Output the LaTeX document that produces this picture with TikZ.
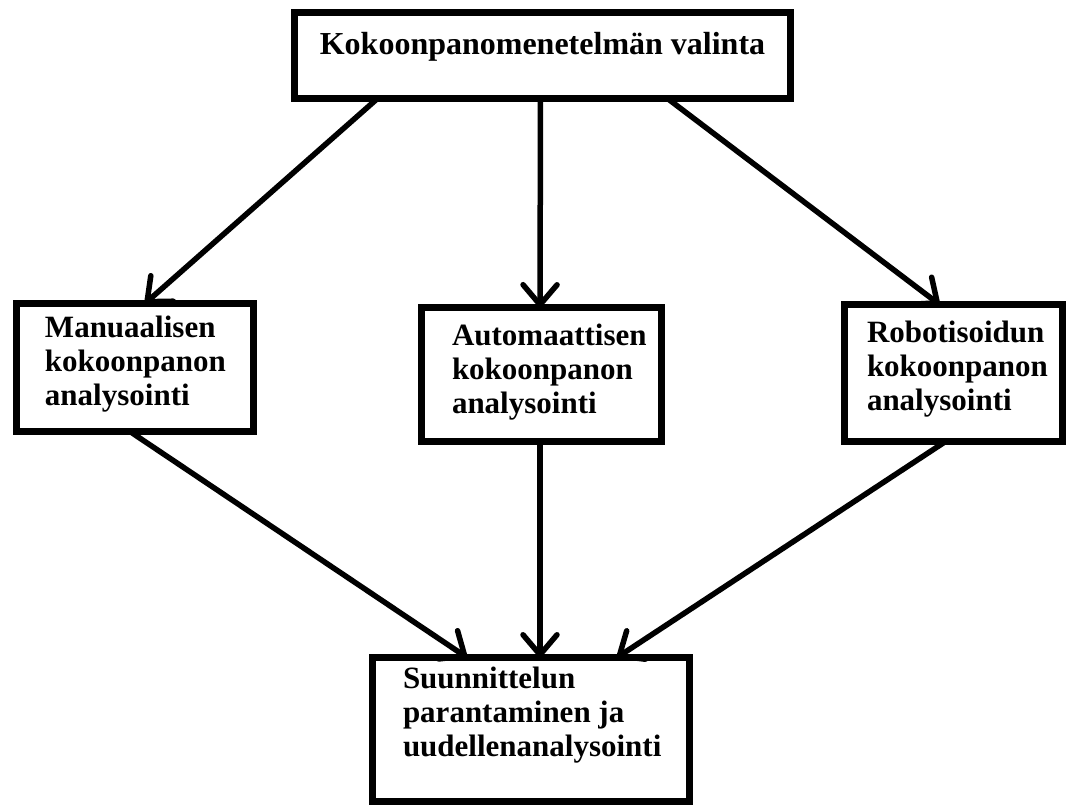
\documentclass[tikz,border=0pt]{standalone}
\usepackage{fontspec}
\setmainfont{Liberation Serif}
\usetikzlibrary{arrows.meta}
\tikzset{
  box/.style={draw=black, line width=7pt, fill=white, inner sep=0pt, outer sep=0pt, rectangle},
  lbl/.style={inner sep=0pt, outer sep=0pt, align=left, font=\fontsize{31}{34}\selectfont\bfseries},
  conn/.style={line width=5.5pt, line cap=round, -{Straight Barb[length=20pt, width=34pt, round]}},
}
\begin{document}
\begin{tikzpicture}[x=1pt, y=-1pt]
\useasboundingbox (0,0) rectangle (1069,807);
\fill[white] (0,0) rectangle (1069,807);
% boxes
\node[box, minimum width=496pt, minimum height=86pt] (top) at (542.5,55.5) {};
\node[box, minimum width=237pt, minimum height=128pt] (b1) at (135,367.5) {};
\node[box, minimum width=240pt, minimum height=134pt] (b2) at (541.5,374.5) {};
\node[box, minimum width=218pt, minimum height=137pt] (b3) at (953.5,373) {};
\node[box, minimum width=317pt, minimum height=144pt] (b4) at (531,729.5) {};
% texts (anchored at the baseline of the last line)
\node[lbl, anchor=base, font=\fontsize{32}{34}\selectfont\bfseries] (ttop) at (542.5,54) {Kokoonpanomenetelmän valinta};
\node[lbl, anchor=base west] (t1) at (45,405) {Manuaalisen\\kokoonpanon\\analysointi};
\node[lbl, anchor=base west] (t2) at (452,413) {Automaattisen\\kokoonpanon\\analysointi};
\node[lbl, anchor=base west] (t3) at (867,410) {Robotisoidun\\kokoonpanon\\analysointi};
\node[lbl, anchor=base west] (t4) at (403,756) {Suunnittelun\\parantaminen ja\\uudellenanalysointi};
% connectors
\draw[conn] ([xshift=-165pt]top.south) -- ([xshift=10pt]b1.north);
\draw[conn] ([xshift=-2pt]top.south) -- ([xshift=-1.5pt]b2.north);
\draw[conn] ([xshift=125pt]top.south) -- ([xshift=-14pt]b3.north);
\draw[conn] ([xshift=-5pt]b1.south) -- ([xshift=-64pt]b4.north);
\draw[conn] ([xshift=-1.5pt]b2.south) -- ([xshift=9pt]b4.north);
\draw[conn] ([xshift=-8pt]b3.south) -- ([xshift=86pt]b4.north);
\end{tikzpicture}
\end{document}
